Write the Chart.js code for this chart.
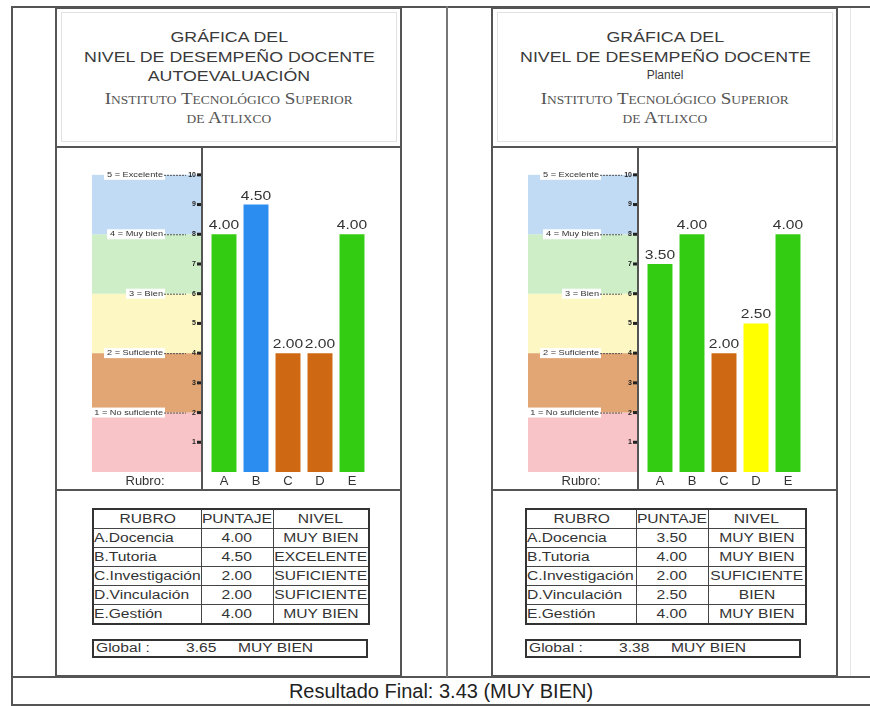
<!DOCTYPE html>
<html><head><meta charset="utf-8">
<script src="https://cdn.jsdelivr.net/npm/chart.js@4.4.1/dist/chart.umd.min.js"></script>
<style>
html,body{margin:0;padding:0;background:#fff}
body{width:870px;height:706px;position:relative;overflow:hidden;font-family:"Liberation Sans",Arial,sans-serif;color:#333}
.ln{position:absolute;background:#555}
.panel{position:absolute;top:7px;width:347px;height:670px;border:2px solid #555;box-sizing:border-box}
.inner{position:absolute;border:1px solid #e2e2e2}
.t{position:absolute;width:346px;text-align:center;white-space:nowrap;line-height:1}
.t span{display:inline-block}
.sans{font-size:14px;color:#3a3a3a}
.sans span{transform:scaleX(1.27)}
.serif{font-family:"Liberation Serif","Times New Roman",serif;font-variant:small-caps;font-size:17px;color:#555}
.serif span{transform:scaleX(1.12)}
canvas{position:absolute}
table{position:absolute;border-collapse:collapse;border:2px solid #333;font-size:12px;table-layout:fixed}
td{border:1px solid #444;height:18px;padding:0;text-align:center;white-space:nowrap;overflow:visible;line-height:18px}
td span{display:inline-block;transform:scaleX(1.3)}
td.l{text-align:left}
td.l span{transform-origin:left center}
.glob{position:absolute;height:19px;border:2px solid #333;box-sizing:border-box;font-size:12px;line-height:15px}
.glob span{position:absolute;top:0;display:inline-block;transform:scaleX(1.3);transform-origin:left center;white-space:nowrap}
.final{position:absolute;left:12px;width:858px;top:680px;text-align:center;font-size:20px;color:#222;line-height:22px}
</style></head>
<body>
<!-- outer frame -->
<div class="ln" style="left:11px;top:6px;width:859px;height:2px"></div>
<div class="ln" style="left:11px;top:6px;width:2px;height:700px"></div>
<div class="ln" style="left:11px;top:704px;width:859px;height:2px"></div>
<div class="ln" style="left:11px;top:676px;width:859px;height:2px"></div>
<div class="ln" style="left:446px;top:6px;width:2px;height:671px;background:#777"></div>
<div class="ln" style="left:850px;top:8px;width:1px;height:668px;background:#e6e6e6"></div>

<!-- panels -->
<div class="panel" style="left:55px"></div>
<div class="panel" style="left:491px"></div>
<div class="inner" style="left:61px;top:12px;width:334px;height:128px"></div>
<div class="inner" style="left:497px;top:12px;width:334px;height:128px"></div>
<div class="ln" style="left:55px;top:146px;width:347px;height:2px"></div>
<div class="ln" style="left:491px;top:146px;width:347px;height:2px"></div>
<div class="ln" style="left:55px;top:489px;width:347px;height:2px"></div>
<div class="ln" style="left:491px;top:489px;width:347px;height:2px"></div>

<div id="titles"></div>

<canvas id="c1" width="344" height="341" style="left:57px;top:148px"></canvas>
<canvas id="c2" width="344" height="341" style="left:493px;top:148px"></canvas>

<div id="tables"></div>
<div class="final" id="final"></div>

<script>
// ---- data ----
const categories = ['A', 'B', 'C', 'D', 'E'];
const rubros = ['A.Docencia', 'B.Tutoria', 'C.Investigación', 'D.Vinculación', 'E.Gestión'];
const autoScores = [4.00, 4.50, 2.00, 2.00, 4.00];
const autoLevels = ['MUY BIEN', 'EXCELENTE', 'SUFICIENTE', 'SUFICIENTE', 'MUY BIEN'];
const plantelScores = [3.50, 4.00, 2.00, 2.50, 4.00];
const plantelLevels = ['MUY BIEN', 'MUY BIEN', 'SUFICIENTE', 'BIEN', 'MUY BIEN'];
const autoGlobal = 3.65, autoGlobalLevel = 'MUY BIEN';
const plantelGlobal = 3.38, plantelGlobalLevel = 'MUY BIEN';
const finalScore = 3.43, finalLevel = 'MUY BIEN';
const bandFrom = [0, 1, 2, 3, 4];
const bandTo = [1, 2, 3, 4, 5];
const bandLabels = ['1 = No suficiente', '2 = Suficiente', '3 = Bien', '4 = Muy bien', '5 = Excelente'];
const yTickValues = [0.5, 1, 1.5, 2, 2.5, 3, 3.5, 4, 4.5, 5];
const tableHeader = ['RUBRO', 'PUNTAJE', 'NIVEL'];

// ---- styles ----
const levelColor = {'EXCELENTE': '#2b8df0', 'MUY BIEN': '#33cc12', 'BIEN': '#ffff00', 'SUFICIENTE': '#cf6812'};
const bandColors = ['#f9c4c7', '#e2a675', '#fdf8c3', '#cdeec7', '#c2dbf5'];

// ---- titles ----
function titles(left, third) {
  const lines = [
    ['GRÁFICA DEL', 30, 'sans'],
    ['NIVEL DE DESEMPEÑO DOCENTE', 50, 'sans'],
    [third, 69, third === 'Plantel' ? 'sans plain' : 'sans'],
    ['Instituto Tecnológico Superior', 90, 'serif'],
    ['de Atlixco', 109, 'serif']
  ];
  let h = '';
  for (const [txt, top, cls] of lines) {
    const style = cls === 'sans plain' ? 'font-size:12px' : '';
    const spanStyle = cls === 'sans plain' ? 'transform:none' : '';
    h += `<div class="t ${cls.split(' ')[0]}" style="left:${left}px;top:${top}px;${style}"><span style="${spanStyle}">${txt}</span></div>`;
  }
  return h;
}
document.getElementById('titles').innerHTML = titles(56, 'AUTOEVALUACIÓN') + titles(492, 'Plantel');

// ---- tables ----
function table(left, widths, scores, levels, glob, globLevel, gw) {
  let h = `<table style="left:${left}px;top:508px;width:${widths[0]+widths[1]+widths[2]}px"><colgroup>` +
    widths.map(w => `<col style="width:${w}px">`).join('') + '</colgroup>';
  h += '<tr>' + tableHeader.map(x => `<td><span>${x}</span></td>`).join('') + '</tr>';
  for (let i = 0; i < rubros.length; i++) {
    h += `<tr><td class="l"><span>${rubros[i]}</span></td><td><span>${scores[i].toFixed(2)}</span></td><td><span>${levels[i]}</span></td></tr>`;
  }
  h += '</table>';
  h += `<div class="glob" style="left:${left}px;top:639px;width:${gw}px"><span style="left:2px">Global :</span><span style="left:92px">${glob.toFixed(2)}</span><span style="left:144px">${globLevel}</span></div>`;
  return h;
}
document.getElementById('tables').innerHTML =
  table(92, [108, 72, 96], autoScores, autoLevels, autoGlobal, autoGlobalLevel, 276) +
  table(525, [110, 72, 98], plantelScores, plantelLevels, plantelGlobal, plantelGlobalLevel, 276);
document.getElementById('final').textContent = `Resultado Final: ${finalScore.toFixed(2)} (${finalLevel})`;

// ---- chart plugins ----
const bandsPlugin = {
  id: 'bands',
  beforeDatasetsDraw(chart) {
    const ctx = chart.ctx, y = chart.scales.y, ca = chart.chartArea;
    const ax = ca.left - 6, bl = ca.left - 116;
    ctx.save();
    for (let i = 0; i < bandFrom.length; i++) {
      const t = y.getPixelForValue(bandTo[i]), b = y.getPixelForValue(bandFrom[i]);
      ctx.fillStyle = bandColors[i];
      ctx.fillRect(bl, t, ax - bl - 1, b - t);
    }
    // axis line
    ctx.fillStyle = '#555';
    ctx.fillRect(ax - 1, 0, 2, chart.height);
    // ticks
    ctx.fillStyle = '#222';
    ctx.font = 'bold 7px "Liberation Sans", Arial';
    ctx.textAlign = 'right'; ctx.textBaseline = 'middle';
    for (const v of yTickValues) {
      const py = y.getPixelForValue(v);
      ctx.fillRect(ax - 5, py - 1.5, 4, 3);
      ctx.fillText(String(v * 2), ax - 6, py);
    }
    // level labels with leader lines
    ctx.font = '8px "Liberation Sans", Arial';
    for (let i = 0; i < bandLabels.length; i++) {
      const py = y.getPixelForValue(bandTo[i]);
      const xr = ax - 38;
      const w = ctx.measureText(bandLabels[i]).width * 1.15;
      ctx.fillStyle = '#fff';
      ctx.fillRect(xr - w - 4, py - 5, w + 5, 10);
      ctx.fillStyle = '#333';
      ctx.save();
      ctx.translate(xr - 1, py);
      ctx.scale(1.15, 1);
      ctx.fillText(bandLabels[i], 0, 0);
      ctx.restore();
      ctx.strokeStyle = '#555'; ctx.lineWidth = 1;
      ctx.setLineDash([2, 1]);
      ctx.beginPath(); ctx.moveTo(xr, py + 0.5); ctx.lineTo(ax - 16, py + 0.5); ctx.stroke();
      ctx.setLineDash([]);
    }
    // "Rubro:" label
    ctx.font = '13px "Liberation Sans", Arial';
    ctx.textAlign = 'center';
    ctx.fillStyle = '#333';
    ctx.fillText('Rubro:', ax - 57, ca.bottom + 9);
    ctx.restore();
  },
  afterDatasetsDraw(chart) {
    const ctx = chart.ctx;
    const meta = chart.getDatasetMeta(0);
    const vals = chart.data.datasets[0].data;
    ctx.save();
    ctx.font = '13px "Liberation Sans", Arial';
    ctx.fillStyle = '#333';
    ctx.textAlign = 'center'; ctx.textBaseline = 'bottom';
    meta.data.forEach((bar, i) => {
      ctx.save();
      ctx.translate(bar.x, bar.y - 2);
      ctx.scale(1.2, 1);
      ctx.fillText(vals[i].toFixed(2), 0, 0);
      ctx.restore();
    });
    ctx.restore();
  }
};

function makeChart(id, scores, levels) {
  new Chart(document.getElementById(id), {
    type: 'bar',
    data: {
      labels: categories,
      datasets: [{
        data: scores,
        backgroundColor: levels.map(l => levelColor[l]),
        borderWidth: 0,
        barPercentage: 0.78,
        categoryPercentage: 1
      }]
    },
    options: {
      responsive: false,
      animation: false,
      devicePixelRatio: 1,
      layout: {padding: {left: 151, right: 33, top: 9, bottom: 0}},
      plugins: {legend: {display: false}, tooltip: {enabled: false}},
      scales: {
        x: {
          grid: {display: false, drawTicks: false, tickLength: 0}, border: {display: false},
          ticks: {font: {family: '"Liberation Sans", Arial', size: 13}, color: '#333', padding: 2},
          afterFit: s => { s.height = 17; }
        },
        y: {display: false, min: 0, max: 5.3}
      }
    },
    plugins: [bandsPlugin]
  });
}
makeChart('c1', autoScores, autoLevels);
makeChart('c2', plantelScores, plantelLevels);
</script>
</body></html>
